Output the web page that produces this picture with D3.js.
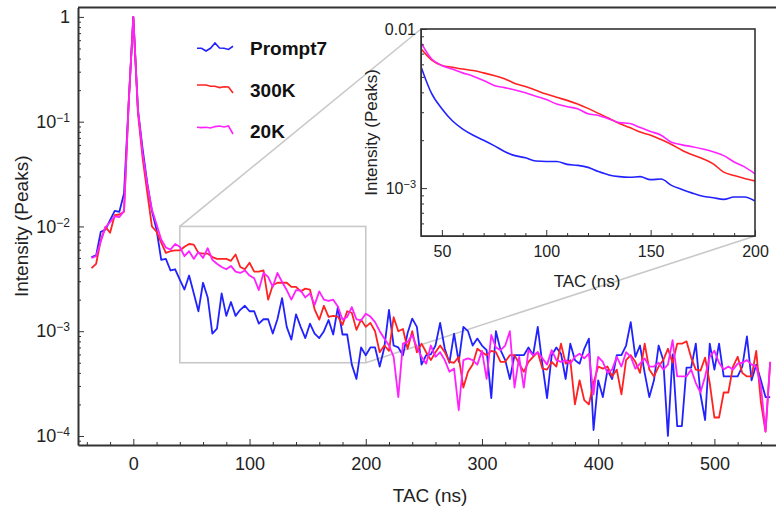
<!DOCTYPE html>
<html lang="en">
<head>
<meta charset="UTF-8">
<title>TAC spectra</title>
<script src="https://cdnjs.cloudflare.com/ajax/libs/d3/7.8.5/d3.min.js"></script>
<style>
    body { margin: 0; background: #fff; }
    svg { display: block; font-family: "Liberation Sans", Arial, Helvetica, sans-serif; }
    .axis path, .axis line { stroke: #333; }
    .axis text { fill: #222; }
</style>
</head>
<body>
<svg id="chart" width="776" height="508"></svg>
<script>
// TAC sampling grid in ns (one bin every 4 ns)
const tac = d3.range(-36, 549, 4);

// Intensities (normalised to the prompt peak)
const prompt7 = [
    5.1e-3, 5.3e-3, 8.9e-3, 9.3e-3, 1.15e-2, 1.41e-2, 1.38e-2, 2.07e-2, 0.15, 1,
    0.13, 0.055, 0.026, 0.014, 9.3e-3, 4.8e-3, 4.9e-3, 3.8e-3, 3.9e-3, 3.1e-3,
    2.5e-3, 3.4e-3, 2.3e-3, 1.55e-3, 2.9e-3, 2.1e-3, 9.5e-4, 1.06e-3, 2.3e-3, 1.4e-3,
    1.9e-3, 1.4e-3, 1.6e-3, 1.75e-3, 1.55e-3, 1.55e-3, 1.18e-3, 1.3e-3, 1.3e-3, 9.5e-4,
    1.3e-3, 2.07e-3, 1.1e-3, 8.3e-4, 1.45e-3, 1.1e-3, 8.6e-4, 1.18e-3, 9.5e-4, 8.6e-4,
    1.0e-3, 1.28e-3, 9.3e-4, 1.7e-3, 9.3e-4, 9.3e-4, 4.8e-4, 3.5e-4, 7.0e-4, 5.9e-4,
    7.0e-4, 7.0e-4, 4.6e-4, 7.0e-4, 1.6e-3, 7.3e-4, 7.0e-4, 5.9e-4, 9.6e-4, 1.32e-3,
    1.1e-3, 4.8e-4, 5.9e-4, 6.0e-4, 7.3e-4, 1.2e-3, 6.8e-4, 5.0e-4, 9.5e-4, 5.1e-4,
    1.1e-3, 1.0e-3, 7.3e-4, 8.5e-4, 7.3e-4, 6.6e-4, 2.3e-4, 1.0e-3, 6.6e-4, 5.3e-4,
    3.5e-4, 5.9e-4, 5.9e-4, 5.9e-4, 7.0e-4, 5.9e-4, 1.1e-3, 4.8e-4, 2.3e-4, 5.9e-4,
    7.0e-4, 6.1e-4, 3.5e-4, 7.6e-4, 5.3e-4, 4.9e-4, 6.8e-4, 8.5e-4, 1.14e-4, 3.4e-4,
    2.35e-4, 4.25e-4, 3.5e-4, 5.9e-4, 5.9e-4, 7.3e-4, 1.22e-3, 5.7e-4, 7.3e-4, 4.0e-4,
    2.35e-4, 3.4e-4, 7.3e-4, 5.3e-4, 1.0e-4, 6.0e-4, 1.24e-4, 1.24e-4, 4.5e-4, 4.5e-4,
    7.6e-4, 2.5e-4, 1.42e-4, 7.6e-4, 4.3e-4, 7.6e-4, 3.7e-4, 3.7e-4, 3.7e-4, 3.7e-4,
    4.6e-4, 8.9e-4, 3.4e-4, 4.8e-4, 3.4e-4, 2.35e-4, 2.35e-4
];
const k300 = [
    4.0e-3, 4.4e-3, 7.4e-3, 9.9e-3, 8.7e-3, 1.28e-2, 1.30e-2, 1.38e-2, 0.15, 1,
    0.12, 0.045, 0.021, 0.010, 8.9e-3, 7.0e-3, 5.6e-3, 5.8e-3, 5.9e-3, 5.9e-3,
    6.4e-3, 6.8e-3, 6.7e-3, 5.6e-3, 5.5e-3, 5.5e-3, 5.1e-3, 4.9e-3, 4.9e-3, 4.9e-3,
    4.7e-3, 5.4e-3, 4.1e-3, 3.9e-3, 4.5e-3, 3.7e-3, 3.7e-3, 3.8e-3, 2.0e-3, 2.75e-3,
    2.9e-3, 2.9e-3, 2.9e-3, 2.65e-3, 2.65e-3, 2.4e-3, 2.55e-3, 2.5e-3, 1.62e-3, 1.29e-3,
    1.75e-3, 1.37e-3, 1.4e-3, 1.38e-3, 1.15e-3, 1.55e-3, 1.5e-3, 1.03e-3, 1.29e-3, 1.1e-3,
    1.2e-3, 1.0e-3, 6.3e-4, 7.3e-4, 6.5e-4, 1.36e-3, 1.0e-3, 1.05e-3, 6.8e-4, 1.0e-3,
    6.3e-4, 7.6e-4, 6.3e-4, 5.3e-4, 6.3e-4, 7.3e-4, 6.3e-4, 5.1e-4, 5.0e-4, 5.7e-4,
    2.9e-4, 4.1e-4, 4.8e-4, 6.8e-4, 6.3e-4, 5.9e-4, 6.5e-4, 6.3e-4, 5.1e-4, 5.1e-4,
    5.9e-4, 5.9e-4, 4.9e-4, 4.1e-4, 5.1e-4, 5.7e-4, 6.3e-4, 4.4e-4, 4.3e-4, 5.1e-4,
    4.6e-4, 7.6e-4, 4.9e-4, 5.3e-4, 2.0e-4, 3.4e-4, 2.2e-4, 2.0e-4, 3.2e-4, 4.6e-4,
    4.4e-4, 4.6e-4, 3.7e-4, 4.3e-4, 2.5e-4, 5.3e-4, 5.9e-4, 5.1e-4, 4.0e-4, 7.6e-4,
    4.3e-4, 3.7e-4, 4.6e-4, 5.3e-4, 6.8e-4, 5.0e-4, 7.6e-4, 7.6e-4, 8.0e-4, 5.6e-4,
    4.3e-4, 4.2e-4, 5.6e-4, 3.2e-4, 1.5e-4, 1.5e-4, 2.6e-4, 2.6e-4, 4.6e-4, 5.7e-4,
    4.0e-4, 3.7e-4, 3.7e-4, 6.5e-4, 2.1e-4, 1.1e-4, 5.1e-4
];
const k20 = [
    5.0e-3, 5.2e-3, 7.2e-3, 9.8e-3, 1.1e-2, 1.25e-2, 1.23e-2, 1.4e-2, 0.15, 1,
    0.13, 0.05, 0.025, 0.0145, 1.05e-2, 7.5e-3, 6.3e-3, 6.0e-3, 6.8e-3, 6.4e-3,
    5.2e-3, 5.8e-3, 4.9e-3, 5.7e-3, 5.0e-3, 6.2e-3, 4.8e-3, 4.4e-3, 4.1e-3, 3.9e-3,
    4.2e-3, 3.7e-3, 3.6e-3, 3.8e-3, 3.4e-3, 3.2e-3, 2.47e-3, 3.6e-3, 3.3e-3, 2.65e-3,
    3.6e-3, 2.95e-3, 2.47e-3, 2.0e-3, 2.47e-3, 2.45e-3, 2.1e-3, 2.3e-3, 1.78e-3, 2.4e-3,
    2.0e-3, 1.95e-3, 2.0e-3, 1.72e-3, 1.29e-3, 1.37e-3, 1.7e-3, 1.3e-3, 1.27e-3, 1.47e-3,
    1.38e-3, 1.22e-3, 1.0e-3, 8.5e-4, 7.3e-4, 5.7e-4, 2.35e-4, 7.6e-4, 7.9e-4, 9.2e-4,
    7.0e-4, 5.7e-4, 4.9e-4, 7.3e-4, 5.7e-4, 6.3e-4, 5.3e-4, 4.1e-4, 4.4e-4, 1.76e-4,
    5.3e-4, 5.5e-4, 5.3e-4, 4.8e-4, 6.5e-4, 3.5e-4, 9.2e-4, 7.0e-4, 6.6e-4, 7.3e-4,
    1.0e-3, 2.9e-4, 5.7e-4, 2.9e-4, 6.6e-4, 5.9e-4, 6.3e-4, 5.5e-4, 4.8e-4, 6.6e-4,
    5.3e-4, 5.1e-4, 5.3e-4, 4.9e-4, 5.7e-4, 6.1e-4, 5.5e-4, 6.1e-4, 2.5e-4, 5.7e-4,
    5.1e-4, 4.0e-4, 4.3e-4, 5.7e-4, 4.6e-4, 6.3e-4, 5.7e-4, 4.4e-4, 4.9e-4, 5.5e-4,
    4.6e-4, 4.6e-4, 5.0e-4, 4.3e-4, 4.8e-4, 8.2e-4, 3.7e-4, 3.7e-4, 3.7e-4, 4.3e-4,
    3.2e-4, 2.6e-4, 3.7e-4, 5.7e-4, 6.5e-4, 5.0e-4, 4.3e-4, 4.6e-4, 4.3e-4, 4.9e-4,
    5.0e-4, 5.3e-4, 4.8e-4, 4.6e-4, 3.0e-4, 1.1e-4, 5.1e-4
];

// Smoothed curves shown in the zoom inset (40-200 ns, every 5 ns)
const insetTac = d3.range(40, 201, 5);
const prompt7Smooth = [
    5.8e-3, 3.95e-3, 3.15e-3, 2.65e-3, 2.35e-3, 2.15e-3, 2.0e-3, 1.85e-3, 1.7e-3, 1.6e-3,
    1.55e-3, 1.48e-3, 1.47e-3, 1.47e-3, 1.41e-3, 1.39e-3, 1.35e-3, 1.27e-3, 1.21e-3, 1.18e-3,
    1.17e-3, 1.18e-3, 1.13e-3, 1.14e-3, 1.04e-3, 9.8e-4, 9.3e-4, 8.9e-4, 8.7e-4, 8.5e-4,
    8.8e-4, 8.8e-4, 8.3e-4
];
const k300Smooth = [
    7.5e-3, 6.4e-3, 5.9e-3, 5.75e-3, 5.6e-3, 5.48e-3, 5.3e-3, 5.1e-3, 4.87e-3, 4.55e-3,
    4.35e-3, 4.12e-3, 3.9e-3, 3.72e-3, 3.56e-3, 3.38e-3, 3.17e-3, 2.95e-3, 2.75e-3, 2.55e-3,
    2.4e-3, 2.25e-3, 2.15e-3, 2.02e-3, 1.88e-3, 1.73e-3, 1.62e-3, 1.53e-3, 1.42e-3, 1.26e-3,
    1.2e-3, 1.15e-3, 1.11e-3
];
const k20Smooth = [
    8.2e-3, 6.5e-3, 5.9e-3, 5.6e-3, 5.3e-3, 5.05e-3, 4.75e-3, 4.42e-3, 4.28e-3, 4.14e-3,
    3.97e-3, 3.78e-3, 3.6e-3, 3.38e-3, 3.25e-3, 3.15e-3, 2.93e-3, 2.86e-3, 2.72e-3, 2.58e-3,
    2.55e-3, 2.4e-3, 2.27e-3, 2.15e-3, 1.94e-3, 1.87e-3, 1.82e-3, 1.76e-3, 1.69e-3, 1.6e-3,
    1.46e-3, 1.36e-3, 1.23e-3
];

const seriesNames = ["Prompt7", "300K", "20K"];
const seriesColors = ["#2222ff", "#ff2222", "#ff22ff"];

const xTicks = [0, 100, 200, 300, 400, 500];
const yTicks = [1, 1e-1, 1e-2, 1e-3, 1e-4];
const insetXTicks = [50, 100, 150, 200];
const insetYTicks = [1e-2, 1e-3];

// ---------------------------------------------------------------
const svg = d3.select("#chart");

const plot = {left: 78, right: 776, top: 7.5, bottom: 445};
const inset = {left: 421, right: 755, top: 29, bottom: 236};

const x = d3.scaleLinear().domain([-47.6, 553]).range([plot.left, plot.right]);
const y = d3.scaleLog().domain([8.2e-5, 1.23]).range([plot.bottom, plot.top]);

const xi = d3.scaleLinear().domain([40, 200]).range([inset.left, inset.right]);
const yi = d3.scaleLog().domain([5e-4, 0.01]).range([inset.bottom, inset.top]);

const series = [prompt7, k300, k20].map((vals, i) => ({
    name: seriesNames[i],
    color: seriesColors[i],
    points: tac.slice(0, vals.length).map((t, j) => ({t, v: vals[j]}))
}));
const insetSeries = [prompt7Smooth, k300Smooth, k20Smooth].map((vals, i) => ({
    color: seriesColors[i],
    points: insetTac.map((t, j) => ({t, v: vals[j]}))
}));

// log minor tick values inside a domain
function minorLog(domain) {
    const out = [];
    for (let e = -6; e <= 1; e++) {
        for (let m = 2; m <= 9; m++) {
            const v = m * Math.pow(10, e);
            if (v >= domain[0] && v <= domain[1]) out.push(v);
        }
    }
    return out;
}

// "10" with a superscript exponent, "1" for 10^0
function powerLabel(sel, supSize) {
    sel.each(function(d) {
        const e = Math.round(Math.log10(d));
        const t = d3.select(this).text(null);
        if (e === 0) { t.text("1"); return; }
        t.append("tspan").text("10");
        t.append("tspan").attr("dy", "-0.5em").style("font-size", supSize + "px")
            .text("\u2212" + Math.abs(e));
    });
}

const defs = svg.append("defs");
defs.append("clipPath").attr("id", "clipMain").append("rect")
    .attr("x", plot.left).attr("y", plot.top)
    .attr("width", plot.right - plot.left).attr("height", plot.bottom - plot.top);
defs.append("clipPath").attr("id", "clipInset").append("rect")
    .attr("x", inset.left).attr("y", inset.top)
    .attr("width", inset.right - inset.left).attr("height", inset.bottom - inset.top);

// zoom box and connector lines
const zoomGrey = "#c8c8c8";
svg.append("rect")
    .attr("x", x(40)).attr("y", y(0.01))
    .attr("width", x(200) - x(40)).attr("height", y(5e-4) - y(0.01))
    .attr("fill", "none").attr("stroke", zoomGrey).attr("stroke-width", 1.6);
svg.append("line")
    .attr("x1", x(40)).attr("y1", y(0.01)).attr("x2", xi(40)).attr("y2", yi(0.01))
    .attr("stroke", zoomGrey).attr("stroke-width", 1.6);
svg.append("line")
    .attr("x1", x(200)).attr("y1", y(5e-4)).attr("x2", xi(200)).attr("y2", yi(5e-4))
    .attr("stroke", zoomGrey).attr("stroke-width", 1.6);

// main data
const line = d3.line().x(d => x(d.t)).y(d => y(d.v));
svg.append("g").attr("clip-path", "url(#clipMain)")
    .selectAll("path")
    .data(series)
    .join("path")
        .attr("d", d => line(d.points))
        .attr("fill", "none")
        .attr("stroke", d => d.color)
        .attr("stroke-width", 1.8)
        .attr("stroke-linejoin", "round");

// main axes
const yAxis = svg.append("g").attr("class", "axis")
    .attr("transform", `translate(${plot.left},0)`)
    .call(d3.axisLeft(y).tickValues(yTicks).tickSize(-6).tickSizeOuter(0).tickPadding(8));
yAxis.selectAll(".tick text").style("font-size", "18px").call(powerLabel, 12);
svg.append("g").attr("class", "axis")
    .attr("transform", `translate(${plot.left},0)`)
    .call(d3.axisLeft(y).tickValues(minorLog(y.domain())).tickSize(-3).tickFormat(""))
    .select(".domain").remove();

svg.append("g").attr("class", "axis")
    .attr("transform", `translate(0,${plot.bottom})`)
    .call(d3.axisBottom(x).tickValues(xTicks).tickSize(-6).tickSizeOuter(0).tickPadding(12))
    .selectAll(".tick text").style("font-size", "18px");
svg.append("g").attr("class", "axis")
    .attr("transform", `translate(0,${plot.bottom})`)
    .call(d3.axisBottom(x).tickValues(d3.range(-40, 553, 20).filter(v => v % 100 !== 0))
        .tickSize(-3).tickFormat(""))
    .select(".domain").remove();

svg.selectAll(".axis .domain").attr("stroke-width", 2);
svg.append("line")
    .attr("x1", plot.left).attr("x2", plot.right)
    .attr("y1", plot.top).attr("y2", plot.top)
    .attr("stroke", "#333").attr("stroke-width", 2);

svg.append("text")
    .attr("x", 430).attr("y", 502)
    .attr("text-anchor", "middle")
    .style("font-size", "19px").attr("fill", "#222")
    .text("TAC (ns)");
svg.append("text")
    .attr("transform", `translate(28,${(plot.top + plot.bottom) / 2}) rotate(-90)`)
    .attr("text-anchor", "middle")
    .style("font-size", "19px").attr("fill", "#222")
    .text("Intensity (Peaks)");

// legend, each sample squiggle is a short run of its own series
const legendRuns = [[60, 69], [40, 49], [100, 109]];
const legendY = [47, 89, 130];
const lx = d3.scaleLinear().range([197, 233]);
const legend = svg.append("g");
series.forEach((s, i) => {
    const run = s.points.slice(legendRuns[i][0], legendRuns[i][1]);
    lx.domain(d3.extent(run, d => d.t));
    const ly = d3.scaleLog().domain(d3.extent(run, d => d.v)).range([legendY[i] + 4, legendY[i] - 4]);
    legend.append("path")
        .attr("d", d3.line().x(d => lx(d.t)).y(d => ly(d.v))(run))
        .attr("fill", "none").attr("stroke", s.color).attr("stroke-width", 1.6);
    legend.append("text")
        .attr("x", 250).attr("y", legendY[i] + 8)
        .style("font-size", "19px").style("font-weight", "bold").attr("fill", "#111")
        .text(s.name);
});

// inset
svg.append("rect")
    .attr("x", inset.left).attr("y", inset.top)
    .attr("width", inset.right - inset.left).attr("height", inset.bottom - inset.top)
    .attr("fill", "#fff");

const lineI = d3.line().x(d => xi(d.t)).y(d => yi(d.v)).curve(d3.curveMonotoneX);
svg.append("g").attr("clip-path", "url(#clipInset)")
    .selectAll("path")
    .data(insetSeries)
    .join("path")
        .attr("d", d => lineI(d.points))
        .attr("fill", "none")
        .attr("stroke", d => d.color)
        .attr("stroke-width", 1.6);

const iy = svg.append("g").attr("class", "axis")
    .attr("transform", `translate(${inset.left},0)`)
    .call(d3.axisLeft(yi).tickValues(insetYTicks).tickSize(-6).tickSizeOuter(0).tickPadding(5));
iy.selectAll(".tick text").style("font-size", "16px")
    .each(function(d) { if (d === 0.01) d3.select(this).text("0.01"); });
iy.selectAll(".tick text").filter(d => d !== 0.01).call(powerLabel, 11);
svg.append("g").attr("class", "axis")
    .attr("transform", `translate(${inset.left},0)`)
    .call(d3.axisLeft(yi).tickValues(minorLog(yi.domain())).tickSize(-3).tickFormat(""))
    .select(".domain").remove();

svg.append("g").attr("class", "axis")
    .attr("transform", `translate(0,${inset.bottom})`)
    .call(d3.axisBottom(xi).tickValues(insetXTicks).tickSize(-6).tickSizeOuter(0).tickPadding(10))
    .selectAll(".tick text").style("font-size", "16px");
svg.append("g").attr("class", "axis")
    .attr("transform", `translate(0,${inset.bottom})`)
    .call(d3.axisBottom(xi).tickValues(d3.range(40, 201, 10).filter(v => v % 50 !== 0))
        .tickSize(-3).tickFormat(""))
    .select(".domain").remove();

svg.append("rect")
    .attr("x", inset.left).attr("y", inset.top)
    .attr("width", inset.right - inset.left).attr("height", inset.bottom - inset.top)
    .attr("fill", "none").attr("stroke", "#333").attr("stroke-width", 1.6);

svg.append("text")
    .attr("x", (inset.left + inset.right) / 2 - 1).attr("y", 287)
    .attr("text-anchor", "middle")
    .style("font-size", "17px").attr("fill", "#222")
    .text("TAC (ns)");
svg.append("text")
    .attr("transform", `translate(377,${(inset.top + inset.bottom) / 2}) rotate(-90)`)
    .attr("text-anchor", "middle")
    .style("font-size", "17px").attr("fill", "#222")
    .text("Intensity (Peaks)");
</script>
</body>
</html>
